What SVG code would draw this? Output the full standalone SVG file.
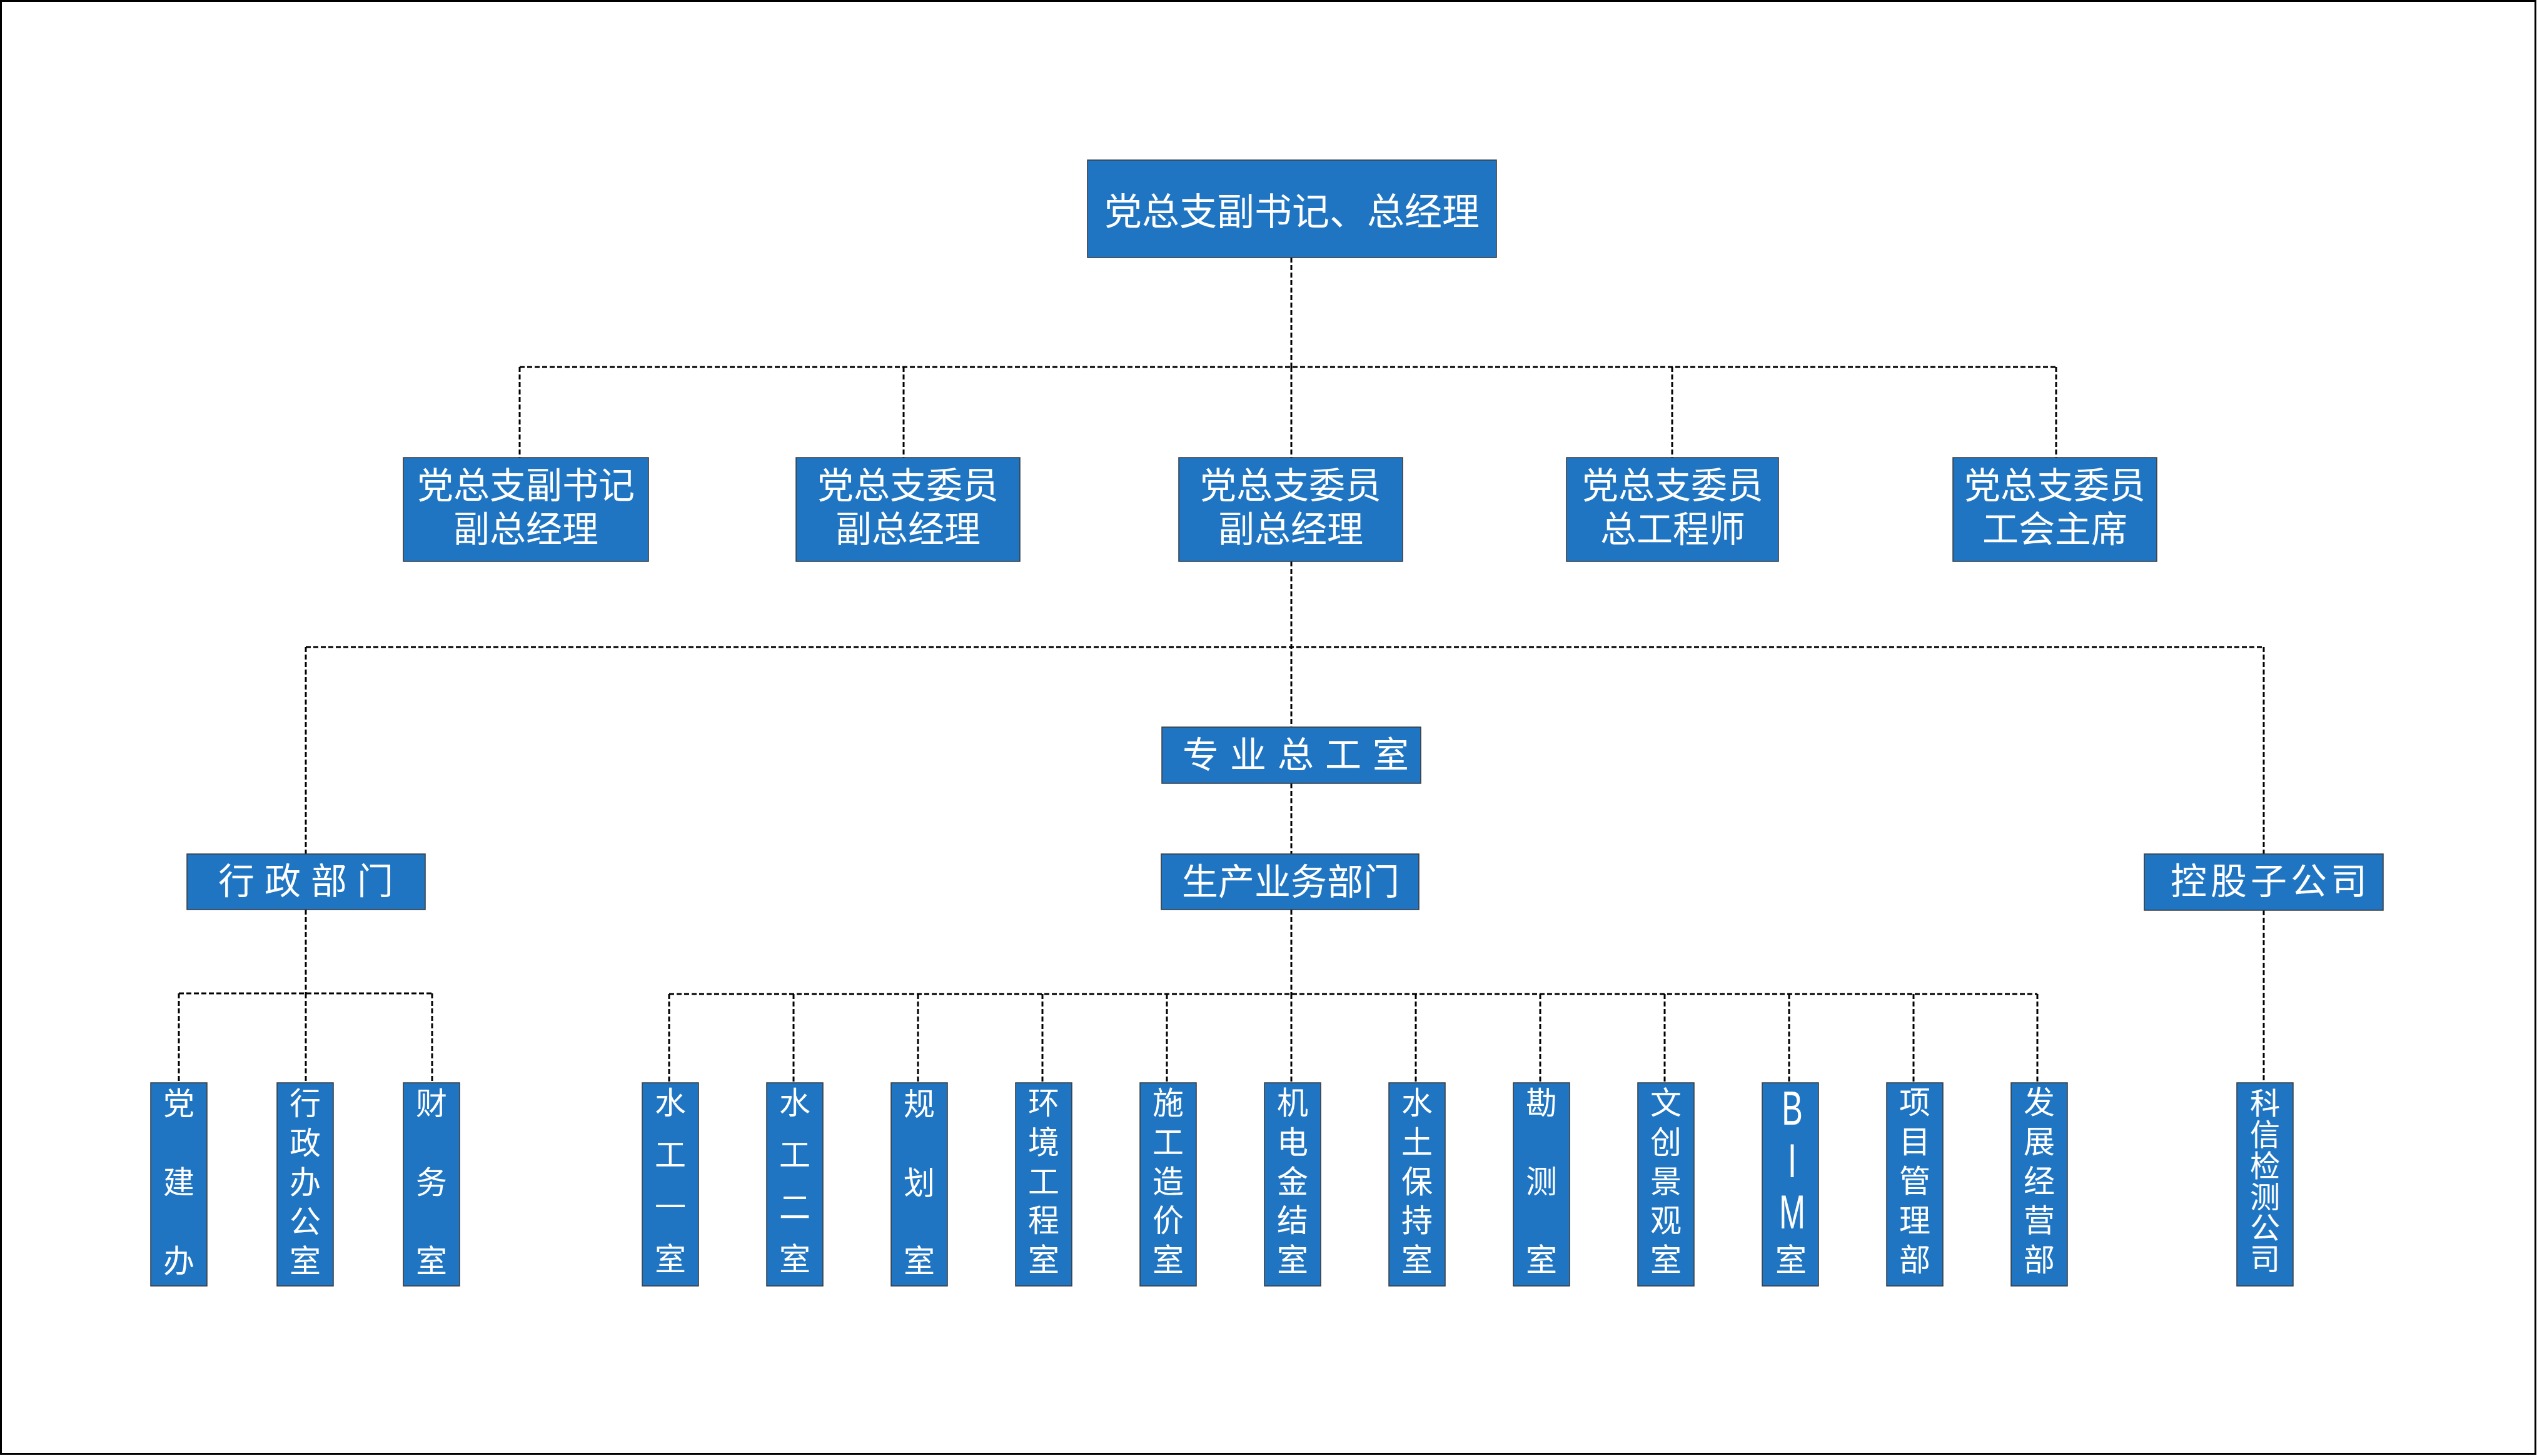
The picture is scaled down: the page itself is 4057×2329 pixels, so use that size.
<svg xmlns="http://www.w3.org/2000/svg" width="4057" height="2329" viewBox="0 0 4057 2329">
<style>
.box{fill:#1f75c2;stroke:#3a3a3a;stroke-width:1.5}
.t{fill:#ffffff;font-family:"Noto Sans CJK SC","Noto Sans",sans-serif;text-anchor:middle;dominant-baseline:central}
.t60{font-size:60px}
.t58{font-size:58px}
.vt{fill:#ffffff;font-family:"Noto Sans CJK SC","Noto Sans",sans-serif;font-size:50px;writing-mode:vertical-rl;text-orientation:upright;text-anchor:start}
.v48{font-size:48px}
.lat{fill:#ffffff;font-family:"Liberation Sans",Arial,sans-serif;font-size:70px;text-anchor:middle;dominant-baseline:central}
.c{fill:none;stroke:#000000;stroke-width:3;stroke-dasharray:8 4}
</style>
<rect x="1.5" y="1.5" width="4053" height="2324" fill="#ffffff" stroke="#000000" stroke-width="3"/>
<g id="connectors">
<path class="c" d="M2065 412V587M831 587H3288M831 587V732M1445 587V732M2065 587V732M2674 587V732M3288 587V732"/>
<path class="c" d="M2065 898V1163M2065 1253V1366M2065 1455V1590M489 1035H3620M489 1035V1366M3620 1035V1366"/>
<path class="c" d="M489 1455V1589M286 1589H691M286 1589V1732M489 1589V1732M691 1589V1732"/>
<path class="c" d="M1070 1590H3258M1070 1590V1732M1269 1590V1732M1468 1590V1732M1667 1590V1732M1866 1590V1732M2065 1590V1732M2264 1590V1732M2463 1590V1732M2662 1590V1732M2861 1590V1732M3060 1590V1732M3258 1590V1732"/>
<path class="c" d="M3620 1456V1732"/>
</g>
<g id="n-top"><rect class="box" x="1739" y="256" width="654" height="156"/><text class="t t60" x="2066" y="333">党总支副书记、总经理</text></g>
<g id="n-l2-1"><rect class="box" x="645" y="732" width="392" height="166"/><text class="t t58"><tspan x="841" y="772">党总支副书记</tspan><tspan x="841" y="842">副总经理</tspan></text></g>
<g id="n-l2-2"><rect class="box" x="1273" y="732" width="358" height="166"/><text class="t t58"><tspan x="1452" y="772">党总支委员</tspan><tspan x="1452" y="842">副总经理</tspan></text></g>
<g id="n-l2-3"><rect class="box" x="1885" y="732" width="358" height="166"/><text class="t t58"><tspan x="2064" y="772">党总支委员</tspan><tspan x="2064" y="842">副总经理</tspan></text></g>
<g id="n-l2-4"><rect class="box" x="2505" y="732" width="339" height="166"/><text class="t t58"><tspan x="2675" y="772">党总支委员</tspan><tspan x="2675" y="842">总工程师</tspan></text></g>
<g id="n-l2-5"><rect class="box" x="3123" y="732" width="326" height="166"/><text class="t t58"><tspan x="3286" y="772">党总支委员</tspan><tspan x="3286" y="842">工会主席</tspan></text></g>
<g id="n-zygs"><rect class="box" x="1858" y="1163" width="414" height="90"/><text class="t t58" x="2081" y="1203" letter-spacing="18">专业总工室</text></g>
<g id="n-xzbm"><rect class="box" x="299" y="1366" width="381" height="89"/><text class="t t58" x="497" y="1405" letter-spacing="16">行政部门</text></g>
<g id="n-scyw"><rect class="box" x="1857" y="1366" width="412" height="89"/><text class="t t58" x="2064" y="1406">生产业务部门</text></g>
<g id="n-kgzgs"><rect class="box" x="3429" y="1366" width="382" height="90"/><text class="t t58" x="3631" y="1405" letter-spacing="6">控股子公司</text></g>
<g id="n-djb"><rect class="box" x="241" y="1732" width="90" height="325"/><text class="vt" x="286" y="1739" letter-spacing="76">党建办</text></g>
<g id="n-xzbgs"><rect class="box" x="443" y="1732" width="90" height="325"/><text class="vt" x="488" y="1739" letter-spacing="13">行政办公室</text></g>
<g id="n-cws"><rect class="box" x="645" y="1732" width="90" height="325"/><text class="vt" x="690" y="1739" letter-spacing="76">财务室</text></g>
<g id="n-sg1"><rect class="box" x="1027" y="1732" width="90" height="325"/><text class="vt" x="1072" y="1738" letter-spacing="33.3">水工一室</text></g>
<g id="n-sg2"><rect class="box" x="1226" y="1732" width="90" height="325"/><text class="vt" x="1271" y="1738" letter-spacing="33.3">水工二室</text></g>
<g id="n-ghs"><rect class="box" x="1425" y="1732" width="90" height="325"/><text class="vt" x="1470" y="1740" letter-spacing="75.5">规划室</text></g>
<g id="n-hjgcs"><rect class="box" x="1624" y="1732" width="90" height="325"/><text class="vt" x="1669" y="1738" letter-spacing="12.75">环境工程室</text></g>
<g id="n-sgzjs"><rect class="box" x="1823" y="1732" width="90" height="325"/><text class="vt" x="1868" y="1738" letter-spacing="12.75">施工造价室</text></g>
<g id="n-jdjjs"><rect class="box" x="2022" y="1732" width="90" height="325"/><text class="vt" x="2067" y="1738" letter-spacing="12.75">机电金结室</text></g>
<g id="n-stbcs"><rect class="box" x="2221" y="1732" width="90" height="325"/><text class="vt" x="2266" y="1738" letter-spacing="12.75">水土保持室</text></g>
<g id="n-kcs"><rect class="box" x="2420" y="1732" width="90" height="325"/><text class="vt" x="2465" y="1738" letter-spacing="75.5">勘测室</text></g>
<g id="n-wcjgs"><rect class="box" x="2619" y="1732" width="90" height="325"/><text class="vt" x="2664" y="1738" letter-spacing="12.75">文创景观室</text></g>
<g id="n-bims"><rect class="box" x="2818" y="1732" width="90" height="325"/><text class="lat" transform="translate(2866,1773) scale(0.72,1.08)">B</text><text class="lat" transform="translate(2866,1857) scale(0.72,1.08)">I</text><text class="lat" transform="translate(2866,1939) scale(0.72,1.08)">M</text><text class="t" style="font-size:50px" x="2864" y="2011">室</text></g>
<g id="n-xmglb"><rect class="box" x="3017" y="1732" width="90" height="325"/><text class="vt" x="3062" y="1737" letter-spacing="12.9">项目管理部</text></g>
<g id="n-fzjyb"><rect class="box" x="3216" y="1732" width="90" height="325"/><text class="vt" x="3261" y="1737" letter-spacing="12.9">发展经营部</text></g>
<g id="n-kxjcgs"><rect class="box" x="3577" y="1732" width="90" height="325"/><text class="vt v48" x="3622" y="1740" letter-spacing="1.8">科信检测公司</text></g>
</svg>
